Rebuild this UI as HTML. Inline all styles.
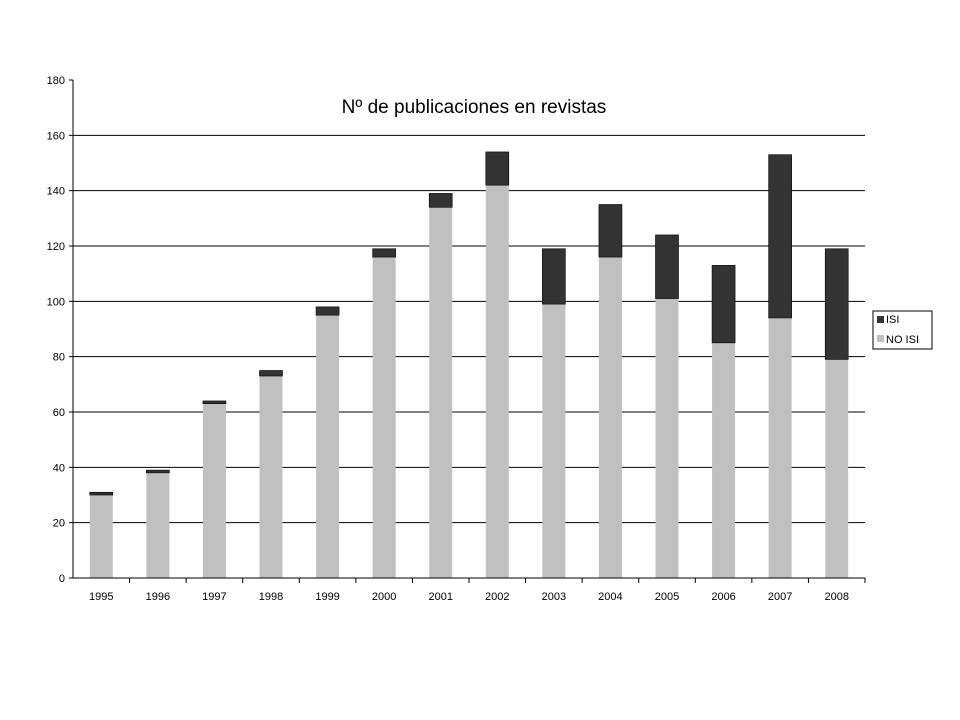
<!DOCTYPE html>
<html><head><meta charset="utf-8"><style>
body{margin:0;background:#fff;}
svg{display:block;font-family:"Liberation Sans",Arial,sans-serif;}
</style></head><body>
<svg id="chart" width="960" height="720">
<text x="474" y="113" font-size="19" text-anchor="middle">Nº de publicaciones en revistas</text>
<g id="grid"></g><g id="bars"></g><g id="axes"></g>
<g>
<rect x="873" y="311" width="59" height="38" fill="#fff" stroke="#000"/>
<rect x="877" y="316" width="7" height="7" fill="#333"/>
<text x="886" y="323" font-size="11">ISI</text>
<rect x="877" y="335" width="7" height="7" fill="#c0c0c0"/>
<text x="886" y="343" font-size="11">NO ISI</text>
</g>
</svg>
<script>
const categories=["1995","1996","1997","1998","1999","2000","2001","2002","2003","2004","2005","2006","2007","2008"];
const noIsi=[30,38,63,73,95,116,134,142,99,116,101,85,94,79];
const isi=[1,1,1,2,3,3,5,12,20,19,23,28,59,40];
const yTicks=[0,20,40,60,80,100,120,140,160,180];
const NS="http://www.w3.org/2000/svg";
const X0=73,X1=865,Y0=578,Y1=80,YMAX=180;
const bw=(X1-X0)/categories.length;
function y(v){return Y0-(v/YMAX)*(Y0-Y1);}
function xc(i){return X0+bw*(i+0.5);}
function mk(tag,attrs,parent){const e=document.createElementNS(NS,tag);for(const k in attrs)e.setAttribute(k,attrs[k]);parent.appendChild(e);return e;}
const grid=document.getElementById('grid'),bars=document.getElementById('bars'),axes=document.getElementById('axes');
yTicks.forEach(t=>{
  if(t>0&&t<YMAX){const l=mk('line',{x1:X0,x2:X1,y1:y(t),y2:y(t),stroke:'#000','stroke-width':1},grid);
  
  }
  const tk=mk('line',{x1:X0-4,x2:X0,y1:y(t),y2:y(t),stroke:'#000'},axes);
  
  
  const tx=mk('text',{x:X0-8,y:y(t)+4,'font-size':11,'text-anchor':'end'},axes);
  tx.textContent=t;
  
  
});
categories.forEach((c,i)=>{
  const w=23,x=xc(i)-w/2;
  const r1=mk('rect',{x:x,y:y(noIsi[i]),width:w,height:y(0)-y(noIsi[i]),fill:'#c0c0c0'},bars);
  
  
  const r2=mk('rect',{x:x,y:y(noIsi[i]+isi[i]),width:w,height:y(noIsi[i])-y(noIsi[i]+isi[i]),fill:'#333',stroke:'#000','stroke-width':0.6},bars);
  
  
  const tk=mk('line',{x1:X0+bw*(i+1),x2:X0+bw*(i+1),y1:Y0,y2:Y0+5,stroke:'#000'},axes);
  
  
  const tx=mk('text',{x:xc(i),y:Y0+22,'font-size':11,'text-anchor':'middle'},axes);
  tx.textContent=c;
  
  
});
const ya=mk('line',{x1:X0,x2:X0,y1:Y1,y2:Y0,stroke:'#000'},axes);


const xa=mk('line',{x1:X0,x2:X1,y1:Y0,y2:Y0,stroke:'#000'},axes);


</script>
</body></html>
